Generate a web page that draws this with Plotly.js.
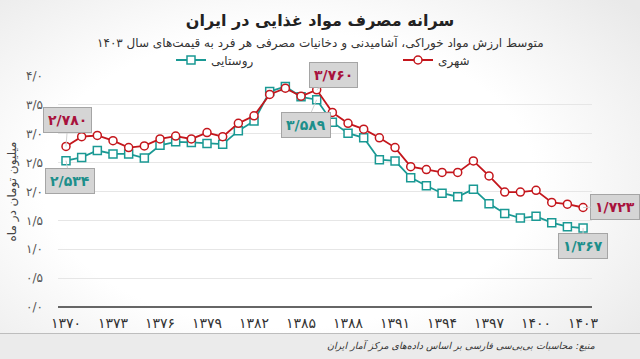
<!DOCTYPE html>
<html>
<head>
<meta charset="utf-8">
<script src="https://cdn.plot.ly/plotly-3.0.1.min.js"></script>
<style>
html,body{margin:0;padding:0;}
body{width:640px;height:359px;overflow:hidden;
background:
 linear-gradient(to bottom, rgba(0,0,0,0) 0px, rgba(0,0,0,0) 333px, #bdbdbd 333px, #bdbdbd 334px, #ebebeb 334px, #ebebeb 359px),
 radial-gradient(ellipse 70% 75% at 45% 50%, #ffffff 55%, #e9e9e9 100%);}
#chart{width:640px;height:359px;}
</style>
</head>
<body>
<div id="chart"></div>
<script>
const years = [1370,1371,1372,1373,1374,1375,1376,1377,1378,1379,1380,1381,1382,1383,1384,1385,1386,1387,1388,1389,1390,1391,1392,1393,1394,1395,1396,1397,1398,1399,1400,1401,1402,1403];
const urban = [2.780,2.95,2.97,2.88,2.76,2.79,2.91,2.96,2.91,3.02,2.95,3.18,3.31,3.68,3.79,3.65,3.760,3.37,3.18,3.08,2.93,2.76,2.43,2.38,2.33,2.33,2.53,2.27,1.99,1.99,2.02,1.81,1.78,1.723];
const rural = [2.534,2.59,2.71,2.65,2.65,2.58,2.80,2.86,2.85,2.83,2.82,3.05,3.22,3.73,3.82,3.64,3.589,3.20,3.01,2.93,2.55,2.53,2.24,2.10,1.97,1.91,2.04,1.79,1.62,1.54,1.57,1.46,1.39,1.367];
const xTickVals = [1370,1373,1376,1379,1382,1385,1388,1391,1394,1397,1400,1403];
const yTickVals = [0,0.5,1,1.5,2,2.5,3,3.5,4];
const seriesNames = ['روستایی','شهری'];
const titleText = 'سرانه مصرف مواد غذایی در ایران';
const subtitleText = 'متوسط ارزش مواد خوراکی، آشامیدنی و دخانیات مصرفی هر فرد به قیمت‌های سال ۱۴۰۳';
const yTitle = 'میلیون تومان در ماه';
const sourceText = 'منبع: محاسبات بی‌بی‌سی فارسی بر اساس داده‌های مرکز آمار ایران';

const faDigits = '۰۱۲۳۴۵۶۷۸۹';
function toFa(s){ return String(s).replace(/[0-9]/g, d => faDigits[+d]).replace('.', '/'); }

const RED = '#c4161c', TEAL = '#1a9994';
const RED_TXT = '#a8123c', TEAL_TXT = '#1d8f8b';
const FONT = 'DejaVu Sans, Noto Sans, sans-serif';

const traces = [
 {x: years, y: rural, name: seriesNames[0], type: 'scatter', mode: 'lines+markers', legend: 'legend',
  line: {color: TEAL, width: 1.8},
  marker: {symbol: 'square', size: 8, color: '#ffffff', line: {color: TEAL, width: 1.5}}},
 {x: years, y: urban, name: seriesNames[1], type: 'scatter', mode: 'lines+markers', legend: 'legend2',
  line: {color: RED, width: 1.8},
  marker: {symbol: 'circle', size: 8, color: '#ffffff', line: {color: RED, width: 1.5}}}
];

function lab(x, y, color, ax, ay){
 return {x: x, y: y, xref: 'x', yref: 'y', text: '<b>' + toFa(y.toFixed(3)) + '</b>',
  showarrow: true, arrowhead: 0, arrowwidth: 1, arrowcolor: '#d0d0d0', ax: ax, ay: ay,
  bgcolor: '#d5d5d5', bordercolor: '#a5a5a5', borderwidth: 1, borderpad: 4,
  font: {family: FONT, size: 14, color: color}};
}
const n = years.length - 1;
const iPeak = years.indexOf(1386);
const annotations = [
 lab(years[0], urban[0], RED_TXT, 2, -26),
 lab(years[0], rural[0], TEAL_TXT, 4, 20),
 lab(years[iPeak], urban[iPeak], RED_TXT, 17, -15),
 lab(years[iPeak], rural[iPeak], TEAL_TXT, -11, 25),
 lab(years[n], urban[n], RED_TXT, 32, -1),
 lab(years[n], rural[n], TEAL_TXT, 0, 18),
 {xref: 'paper', yref: 'paper', x: (320-58)/534, y: 1, yshift: 33, xanchor: 'center', yanchor: 'middle',
  text: subtitleText, showarrow: false, font: {family: FONT, size: 12, color: '#333'}},
 {xref: 'paper', yref: 'paper', x: (597-58)/534, y: 0, yshift: -39, xanchor: 'right', yanchor: 'middle',
  text: '<i>' + sourceText + '</i>', showarrow: false, font: {family: FONT, size: 9.5, color: '#333'}}
];

const legStyle = {orientation: 'h', xref: 'container', yref: 'container', y: 1 - 60/359,
  xanchor: 'left', yanchor: 'middle', itemwidth: 30,
  font: {family: FONT, size: 12, color: '#333'}, bgcolor: 'rgba(0,0,0,0)'};

const layout = {
 width: 640, height: 359,
 margin: {l: 58, r: 48, t: 76, b: 52},
 paper_bgcolor: 'rgba(0,0,0,0)', plot_bgcolor: 'rgba(0,0,0,0)',
 font: {family: FONT, color: '#444'},
 title: {text: '<b>' + titleText + '</b>', x: 0.5, xanchor: 'center', xref: 'container',
  y: 1 - 20/359, yanchor: 'middle', yref: 'container', font: {family: FONT, size: 16, color: '#222'}},
 showlegend: true,
 legend: Object.assign({}, legStyle, {x: 171/640}),
 legend2: Object.assign({}, legStyle, {x: 398/640}),
 xaxis: {range: [1369.49, 1403.57], tickvals: xTickVals, ticktext: xTickVals.map(toFa),
  showgrid: false, zeroline: false, showline: false, ticks: '', fixedrange: true,
  tickfont: {family: FONT, size: 14, color: '#333'}, ticklabelstandoff: 6},
 yaxis: {range: [0, 4], tickvals: yTickVals, ticktext: yTickVals.map(v => toFa(v.toFixed(1))),
  showgrid: true, gridcolor: '#e6e6e6', gridwidth: 1, zeroline: true, zerolinecolor: '#666', zerolinewidth: 1.2,
  ticks: '', tickfont: {family: FONT, size: 12, color: '#555'}, ticklabelstandoff: 14,
  title: {text: yTitle, standoff: 6, font: {family: FONT, size: 12, color: '#444'}}},
 annotations: annotations
};

Plotly.newPlot('chart', traces, layout, {displayModeBar: false, staticPlot: true});
</script>
</body>
</html>
